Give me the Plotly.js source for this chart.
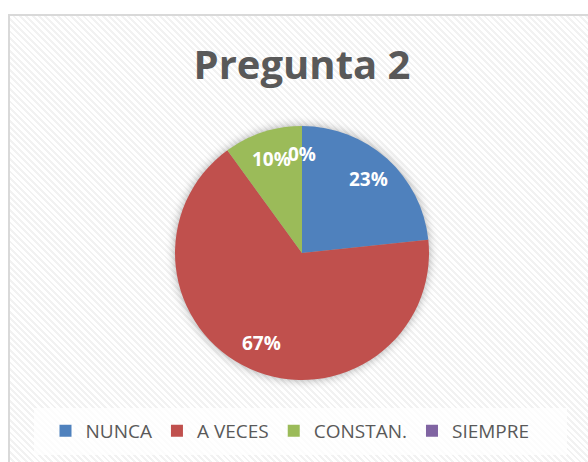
<!DOCTYPE html>
<html>
<head>
<meta charset="utf-8">
<script src="https://cdn.plot.ly/plotly-3.0.1.min.js"></script>
<style>
  html, body { margin: 0; padding: 0; background: #ffffff; }
  #wrap { position: relative; width: 588px; height: 462px; overflow: hidden; background: #ffffff; }
  #frame {
    position: absolute; left: 8px; top: 14px; width: 600px; height: 470px;
    border: 2px solid #d9d9d9; box-sizing: border-box;
    background: repeating-linear-gradient(45deg, #ffffff 0px, #ffffff 2.5px, #f2f2f2 2.5px, #f2f2f2 4.5px);
  }
  #chart { position: absolute; left: 0; top: 0; width: 588px; height: 462px; }
  .pielayer .trace { filter: drop-shadow(0 0 5px rgba(0,0,0,0.33)); }
</style>
</head>
<body>
<div id="wrap">
  <div id="frame"></div>
  <div id="chart"></div>
</div>
<script>
// ---- data ----
const titleText = "Pregunta 2";
const categories = ["NUNCA", "A VECES", "CONSTAN.", "SIEMPRE"];
const counts = [7, 20, 3, 0];
const colors = ["#4F81BD", "#C0504D", "#9BBB59", "#8064A2"];

// ---- layout geometry ----
const W = 588, H = 462;
const cx = 302, cy = 253, R = 127;
const labelFrac = 0.78;

const total = counts.reduce((a, b) => a + b, 0);
const percents = counts.map(v => Math.round(v / total * 100) + "%");

// data labels placed at the mid-angle of each slice (derived from the values)
const annotations = [];
let cum = 0;
counts.forEach((v, i) => {
  const mid = (cum + v / 2) / total * 2 * Math.PI;
  cum += v;
  const px = cx + labelFrac * R * Math.sin(mid);
  const py = cy - labelFrac * R * Math.cos(mid);
  annotations.push({
    x: px / W, y: 1 - py / H, xref: "paper", yref: "paper",
    text: "<b>" + percents[i] + "</b>", showarrow: false,
    font: { family: "Open Sans", size: 19, color: "#ffffff" },
    xanchor: "center", yanchor: "middle"
  });
});

const trace = {
  type: "pie",
  labels: categories,
  values: counts,
  sort: false,
  direction: "clockwise",
  rotation: 0,
  marker: { colors: colors, line: { width: 0 } },
  textinfo: "none",
  hoverinfo: "none",
  domain: { x: [(cx - R) / W, (cx + R) / W], y: [1 - (cy + R) / H, 1 - (cy - R) / H] }
};

const layout = {
  width: W, height: H,
  margin: { l: 0, r: 0, t: 0, b: 0, pad: 0 },
  paper_bgcolor: "rgba(0,0,0,0)",
  plot_bgcolor: "rgba(0,0,0,0)",
  title: {
    text: "<b>" + titleText + "</b>",
    font: { family: "Open Sans", size: 40, color: "#595959" },
    x: 302 / W, xanchor: "center", y: 1 - 65 / H, yanchor: "middle", yref: "container", xref: "container"
  },
  showlegend: true,
  legend: {
    orientation: "h", x: 290 / W, xanchor: "center", y: 1 - 431 / H, yanchor: "middle",
    font: { family: "Open Sans", size: 19, color: "#595959" },
    bgcolor: "rgba(0,0,0,0)", traceorder: "normal", itemclick: false
  },
  shapes: [{
    type: "rect", xref: "paper", yref: "paper", layer: "below",
    x0: 34 / W, x1: 567 / W, y0: 1 - 455 / H, y1: 1 - 408 / H,
    fillcolor: "rgba(255,255,255,0.75)", line: { width: 0 }
  }],
  annotations: annotations
};

Plotly.newPlot("chart", [trace], layout, { staticPlot: true, displayModeBar: false });
</script>
</body>
</html>
